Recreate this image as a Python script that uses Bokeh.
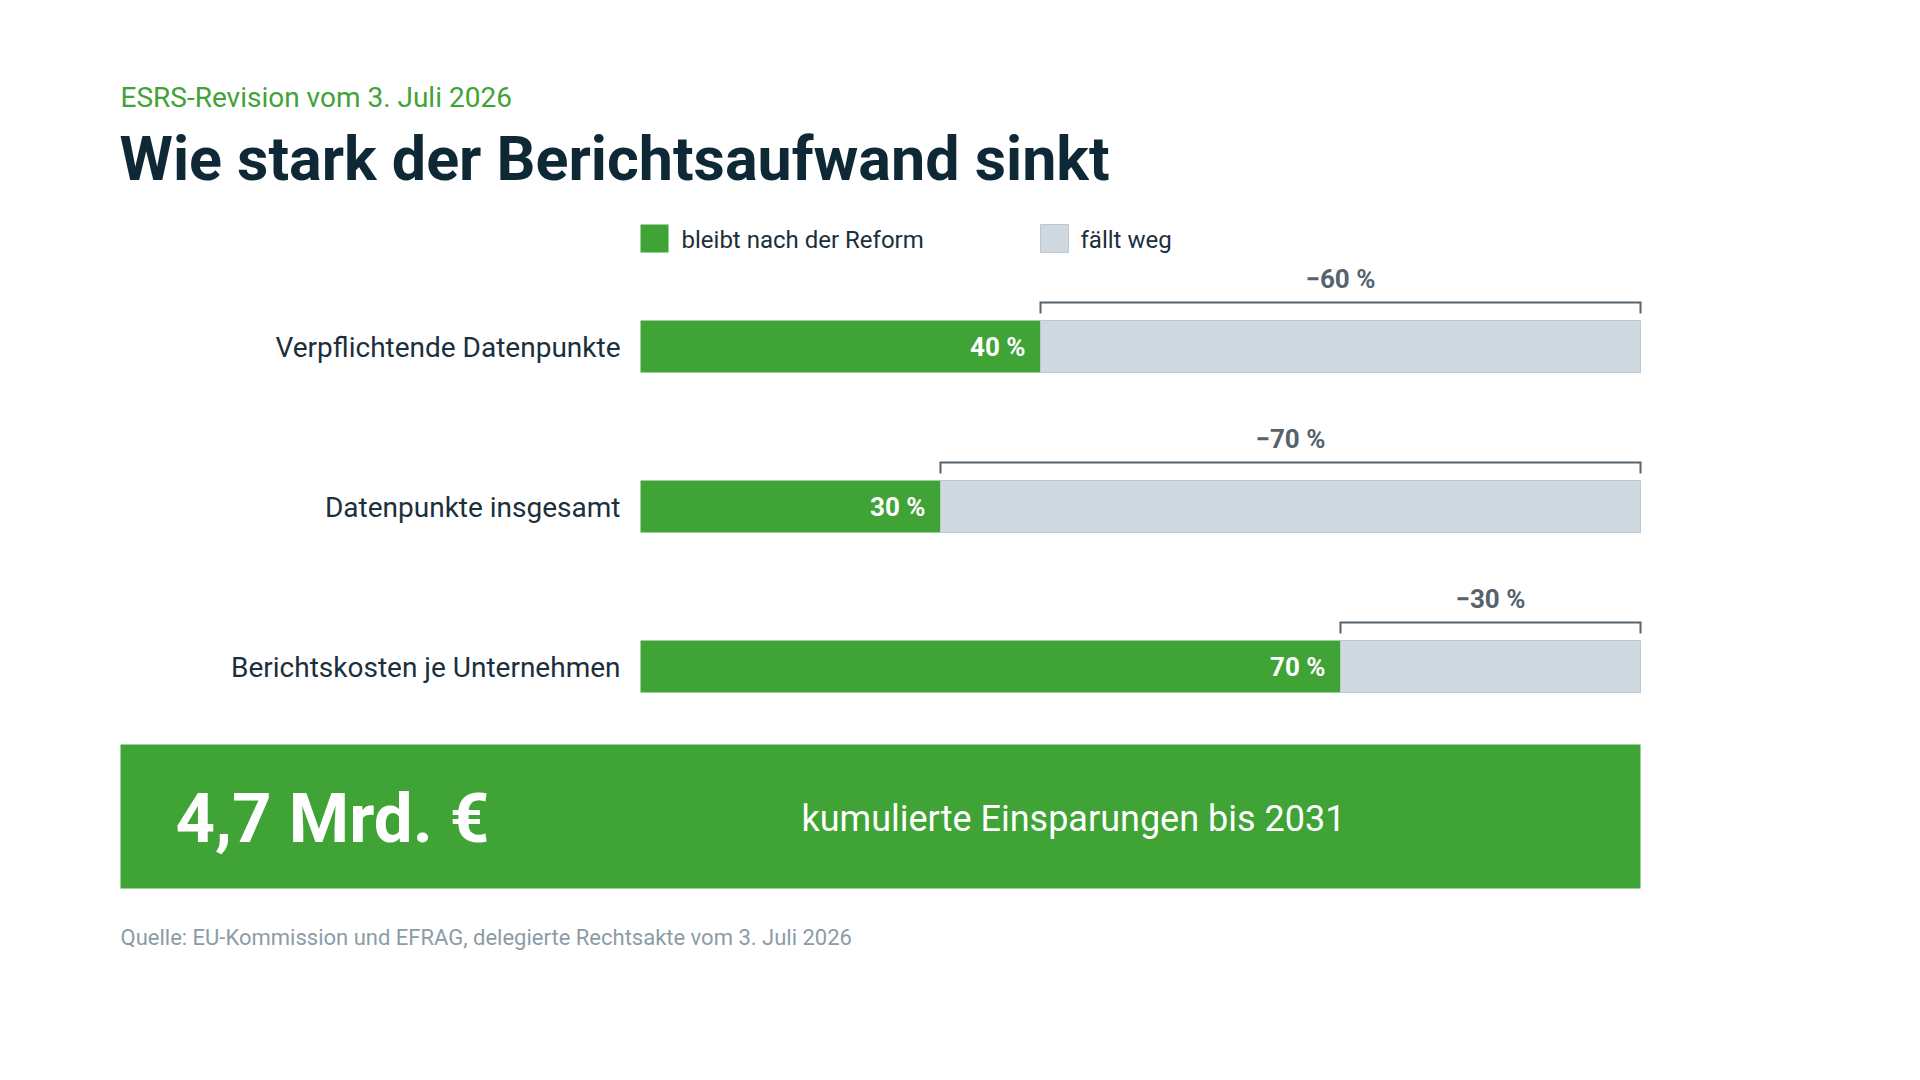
from bokeh.plotting import figure
from bokeh.models import ColumnDataSource, Range1d, Label
from bokeh.core.properties import value
from bokeh.embed import file_html
from bokeh.resources import INLINE

# --- data -------------------------------------------------------------
categories = [
    "Verpflichtende Datenpunkte",
    "Datenpunkte insgesamt",
    "Berichtskosten je Unternehmen",
]
kept_pct = [40, 30, 70]       # share that remains after the reform
dropped_pct = [60, 70, 30]    # share that is dropped
savings_bn_eur = 4.7
savings_until = 2031

subtitle = "ESRS-Revision vom 3. Juli 2026"
title = "Wie stark der Berichtsaufwand sinkt"
legend_kept = "bleibt nach der Reform"
legend_dropped = "fällt weg"
source_note = "Quelle: EU-Kommission und EFRAG, delegierte Rechtsakte vom 3. Juli 2026"

# --- style ------------------------------------------------------------
FONT = "Roboto"
GREEN = "#3fa336"
GREY = "#cfd9df"
GREY_EDGE = "#bcc8d0"
NAVY = "#0e2836"
LABEL = "#1b2f3c"
SLATE = "#56636d"
MUTED = "#8c9ca7"

W, H = 1920, 1080
X_ZERO_PX, X_FULL_PX = 640, 1640     # where 0 % and 100 % sit on the canvas
ROW_TOP_PX, ROW_PITCH_PX = 346, 160  # centre of first row, distance between rows
PX_PER_PCT = (X_FULL_PX - X_ZERO_PX) / 100.0


def ux(px):
    """canvas pixel column -> percent axis"""
    return (px - X_ZERO_PX) / PX_PER_PCT


def uy(py):
    """canvas pixel row -> row axis"""
    return (py - ROW_TOP_PX) / ROW_PITCH_PX


def dy(px):
    return px / ROW_PITCH_PX


rows = list(range(len(categories)))
total = [k + d for k, d in zip(kept_pct, dropped_pct)]

# text y positions are given as the vertical centre of the capitals
src = ColumnDataSource(dict(
    cat=categories,
    row=rows,
    kept=kept_pct,
    total=total,
    mid=[k + d / 2 for k, d in zip(kept_pct, dropped_pct)],
    kept_lbl=[f"{k} %" for k in kept_pct],
    drop_lbl=[f"\u2212{d} %" for d in dropped_pct],
    cat_y=[r + dy(1) for r in rows],
    val_y=[r + dy(0.5) for r in rows],
    drop_y=[r - dy(68) for r in rows],
))

p = figure(
    width=W, height=H,
    x_range=Range1d(ux(0), ux(W)),
    y_range=Range1d(uy(H), uy(0)),
    x_axis_type=None, y_axis_type=None,
    output_backend="svg", toolbar_location=None,
    min_border=0,
)
p.outline_line_color = None
p.background_fill_color = "white"
p.border_fill_color = "white"
p.grid.grid_line_color = None

bar_h = dy(52)

# stacked bars: remaining share + dropped share
p.hbar(y="row", left=0, right="kept", height=bar_h, fill_color=GREEN,
       line_color=None, source=src)
p.hbar(y="row", left="kept", right="total", height=bar_h, fill_color=GREY,
       line_color=GREY_EDGE, line_width=1, source=src)

# brackets over the dropped part
p.multi_line(
    xs=[[k, k, t, t] for k, t in zip(kept_pct, total)],
    ys=[[r - dy(33), r - dy(44), r - dy(44), r - dy(33)] for r in rows],
    line_color=SLATE, line_width=2, line_join="miter",
)

# category names
p.text(x=ux(620), y="cat_y", text="cat", source=src,
       text_font=value(FONT), text_font_size="28px", text_color=LABEL,
       text_align="right", text_baseline="middle")

# value labels inside the green bars
p.text(x="kept", y="val_y", text="kept_lbl", source=src, x_offset=-15,
       text_font=value(FONT), text_font_style="bold", text_font_size="26px",
       text_color="white", text_align="right", text_baseline="middle")

# reduction labels above the brackets
p.text(x="mid", y="drop_y", text="drop_lbl", source=src,
       text_font=value(FONT), text_font_style="bold", text_font_size="26px",
       text_color=SLATE, text_align="center", text_baseline="middle")

# legend keys
p.quad(left=ux(640), right=ux(668), top=uy(224), bottom=uy(252),
       fill_color=GREEN, line_color=None)
p.quad(left=ux(1040), right=ux(1068), top=uy(224), bottom=uy(252),
       fill_color=GREY, line_color=GREY_EDGE, line_width=1)

# savings panel
p.quad(left=ux(120), right=ux(1640), top=uy(744), bottom=uy(888),
       fill_color=GREEN, line_color=None)


def add_label(x_px, y_px, text, size, color, bold=False, align="left"):
    p.add_layout(Label(
        x=ux(x_px), y=uy(y_px), text=text,
        text_font=FONT, text_font_size=f"{size}px",
        text_font_style="bold" if bold else "normal",
        text_color=color, text_align=align, text_baseline="middle",
    ))


add_label(120, 97, subtitle, 28, GREEN)
add_label(119, 158, title, 61, NAVY, bold=True)
add_label(681, 239, legend_kept, 24, LABEL)
add_label(1080, 239, legend_dropped, 24, LABEL)

savings_txt = f"{savings_bn_eur:.1f}".replace(".", ",") + " Mrd. \u20ac"
add_label(175, 818, savings_txt, 69, "white", bold=True)
add_label(801, 818, f"kumulierte Einsparungen bis {savings_until}", 36, "white")

add_label(120, 937, source_note, 22, MUTED)

open("out.html", "w").write(file_html(p, INLINE))
